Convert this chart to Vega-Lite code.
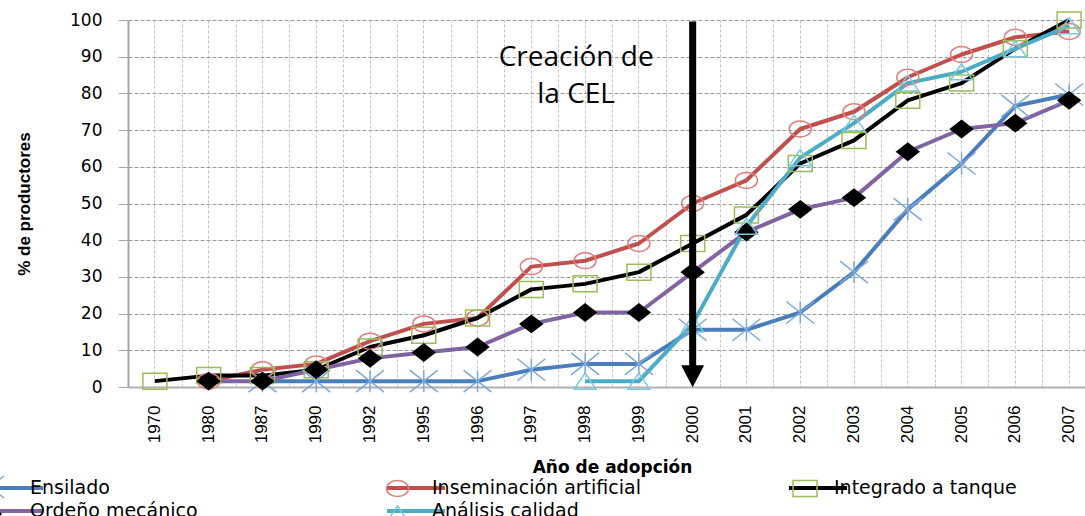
{
  "$schema": "https://vega.github.io/schema/vega-lite/v6.json",
  "width": 957,
  "height": 367,
  "autosize": {"type": "none"},
  "padding": {"left": 128, "top": 20, "right": 0, "bottom": 129},
  "background": "white",
  "config": {
    "view": {"stroke": null},
    "font": "DejaVu Sans"
  },
  "datasets": {
    "series": [
      {"year": "1987", "serie": "Ensilado", "pct": 1.6},
      {"year": "1990", "serie": "Ensilado", "pct": 1.6},
      {"year": "1992", "serie": "Ensilado", "pct": 1.6},
      {"year": "1995", "serie": "Ensilado", "pct": 1.6},
      {"year": "1996", "serie": "Ensilado", "pct": 1.6},
      {"year": "1997", "serie": "Ensilado", "pct": 4.7},
      {"year": "1998", "serie": "Ensilado", "pct": 6.3},
      {"year": "1999", "serie": "Ensilado", "pct": 6.3},
      {"year": "2000", "serie": "Ensilado", "pct": 15.6},
      {"year": "2001", "serie": "Ensilado", "pct": 15.6},
      {"year": "2002", "serie": "Ensilado", "pct": 20.3},
      {"year": "2003", "serie": "Ensilado", "pct": 31.3},
      {"year": "2004", "serie": "Ensilado", "pct": 48.4},
      {"year": "2005", "serie": "Ensilado", "pct": 60.9},
      {"year": "2006", "serie": "Ensilado", "pct": 76.6},
      {"year": "2007", "serie": "Ensilado", "pct": 79.7},
      {"year": "1980", "serie": "Inseminación artificial", "pct": 1.6},
      {"year": "1987", "serie": "Inseminación artificial", "pct": 4.7},
      {"year": "1990", "serie": "Inseminación artificial", "pct": 6.3},
      {"year": "1992", "serie": "Inseminación artificial", "pct": 12.5},
      {"year": "1995", "serie": "Inseminación artificial", "pct": 17.2},
      {"year": "1996", "serie": "Inseminación artificial", "pct": 18.8},
      {"year": "1997", "serie": "Inseminación artificial", "pct": 32.8},
      {"year": "1998", "serie": "Inseminación artificial", "pct": 34.4},
      {"year": "1999", "serie": "Inseminación artificial", "pct": 39.1},
      {"year": "2000", "serie": "Inseminación artificial", "pct": 50.0},
      {"year": "2001", "serie": "Inseminación artificial", "pct": 56.3},
      {"year": "2002", "serie": "Inseminación artificial", "pct": 70.3},
      {"year": "2003", "serie": "Inseminación artificial", "pct": 75.0},
      {"year": "2004", "serie": "Inseminación artificial", "pct": 84.4},
      {"year": "2005", "serie": "Inseminación artificial", "pct": 90.6},
      {"year": "2006", "serie": "Inseminación artificial", "pct": 95.3},
      {"year": "2007", "serie": "Inseminación artificial", "pct": 96.9},
      {"year": "1970", "serie": "Integrado a tanque", "pct": 1.6},
      {"year": "1980", "serie": "Integrado a tanque", "pct": 3.1},
      {"year": "1987", "serie": "Integrado a tanque", "pct": 3.1},
      {"year": "1990", "serie": "Integrado a tanque", "pct": 4.7},
      {"year": "1992", "serie": "Integrado a tanque", "pct": 10.9},
      {"year": "1995", "serie": "Integrado a tanque", "pct": 14.1},
      {"year": "1996", "serie": "Integrado a tanque", "pct": 18.8},
      {"year": "1997", "serie": "Integrado a tanque", "pct": 26.6},
      {"year": "1998", "serie": "Integrado a tanque", "pct": 28.1},
      {"year": "1999", "serie": "Integrado a tanque", "pct": 31.3},
      {"year": "2000", "serie": "Integrado a tanque", "pct": 39.1},
      {"year": "2001", "serie": "Integrado a tanque", "pct": 46.9},
      {"year": "2002", "serie": "Integrado a tanque", "pct": 60.9},
      {"year": "2003", "serie": "Integrado a tanque", "pct": 67.2},
      {"year": "2004", "serie": "Integrado a tanque", "pct": 78.1},
      {"year": "2005", "serie": "Integrado a tanque", "pct": 82.8},
      {"year": "2006", "serie": "Integrado a tanque", "pct": 92.2},
      {"year": "2007", "serie": "Integrado a tanque", "pct": 100},
      {"year": "1980", "serie": "Ordeño mecánico", "pct": 1.6},
      {"year": "1987", "serie": "Ordeño mecánico", "pct": 1.6},
      {"year": "1990", "serie": "Ordeño mecánico", "pct": 4.7},
      {"year": "1992", "serie": "Ordeño mecánico", "pct": 7.8},
      {"year": "1995", "serie": "Ordeño mecánico", "pct": 9.4},
      {"year": "1996", "serie": "Ordeño mecánico", "pct": 10.9},
      {"year": "1997", "serie": "Ordeño mecánico", "pct": 17.2},
      {"year": "1998", "serie": "Ordeño mecánico", "pct": 20.3},
      {"year": "1999", "serie": "Ordeño mecánico", "pct": 20.3},
      {"year": "2000", "serie": "Ordeño mecánico", "pct": 31.3},
      {"year": "2001", "serie": "Ordeño mecánico", "pct": 42.2},
      {"year": "2002", "serie": "Ordeño mecánico", "pct": 48.4},
      {"year": "2003", "serie": "Ordeño mecánico", "pct": 51.6},
      {"year": "2004", "serie": "Ordeño mecánico", "pct": 64.1},
      {"year": "2005", "serie": "Ordeño mecánico", "pct": 70.3},
      {"year": "2006", "serie": "Ordeño mecánico", "pct": 71.9},
      {"year": "2007", "serie": "Ordeño mecánico", "pct": 78.1},
      {"year": "1998", "serie": "Análisis calidad", "pct": 1.6},
      {"year": "1999", "serie": "Análisis calidad", "pct": 1.6},
      {"year": "2000", "serie": "Análisis calidad", "pct": 17.2},
      {"year": "2001", "serie": "Análisis calidad", "pct": 43.8},
      {"year": "2002", "serie": "Análisis calidad", "pct": 62.5},
      {"year": "2003", "serie": "Análisis calidad", "pct": 71.9},
      {"year": "2004", "serie": "Análisis calidad", "pct": 82.8},
      {"year": "2005", "serie": "Análisis calidad", "pct": 85.9},
      {"year": "2006", "serie": "Análisis calidad", "pct": 92.2},
      {"year": "2007", "serie": "Análisis calidad", "pct": 98.4}
    ],
    "arrow": [{"year": "2000", "pct": 99.6, "pct2": 5.5}],
    "arrowhead": [{"year": "2000", "pct": 2.9}],
    "note": [{"year": "1998", "pct": 89.6, "label": "Creación de\nla CEL"}]
  },
  "resolve": {"axis": {"x": "independent", "y": "independent"}, "scale": {"color": "independent", "shape": "independent"}},
  "layer": [
    {
      "data": {"name": "series"},
      "mark": {"type": "line", "strokeWidth": 4, "strokeJoin": "round"},
      "encoding": {
        "x": {
          "field": "year", "type": "ordinal",
          "scale": {"type": "band", "domain": ["1970","1980","1987","1990","1992","1995","1996","1997","1998","1999","2000","2001","2002","2003","2004","2005","2006","2007"], "range": [0, 968], "paddingInner": 0, "paddingOuter": 0},
          "axis": {"orient": "bottom", "labelAngle": 270, "labelFont": "Liberation Sans", "labelFontSize": 17, "labelColor": "#000", "ticks": false, "labelPadding": 18, "domainColor": "#b0b0b0", "domainWidth": 2, "grid": true, "gridColor": "#c4c4c4", "gridDash": [3, 2], "gridWidth": 1, "title": "Año de adopción", "titleFont": "DejaVu Sans", "titleFontWeight": "bold", "titleFontSize": 17, "titleColor": "#000", "titlePadding": 17}
        },
        "y": {
          "field": "pct", "type": "quantitative",
          "scale": {"domain": [0, 100], "nice": false, "zero": true},
          "title": "% de productores",
          "axis": {"values": [0, 10, 20, 30, 40, 50, 60, 70, 80, 90, 100], "tickCount": 11, "grid": true, "gridColor": "#9a9a9a", "gridDash": [4, 2], "gridWidth": 1, "domainColor": "#a6a6a6", "domainWidth": 2, "tickColor": "#a6a6a6", "tickSize": 10, "tickWidth": 1, "labelFont": "DejaVu Sans", "labelFontSize": 17, "labelColor": "#000", "labelPadding": 16, "labelOverlap": false, "titleFont": "Liberation Sans", "titleFontWeight": "bold", "titleFontSize": 17, "titleColor": "#000", "titlePadding": 36}
        },
        "color": {
          "field": "serie", "type": "nominal",
          "scale": {"domain": ["Ensilado", "Inseminación artificial", "Integrado a tanque", "Ordeño mecánico", "Análisis calidad"], "range": ["#4A7EBB", "#C0504D", "#000000", "#8064A2", "#4BACC6"]},
          "legend": {"orient": "none", "legendX": -107, "legendY": 456, "direction": "horizontal", "columns": 3, "gridAlign": "all", "columnPadding": 140, "rowPadding": 1, "title": null, "labelFont": "DejaVu Sans", "labelFontSize": 19, "labelColor": "#000", "labelLimit": 500, "labelOffset": 4, "symbolType": "M-2.9,0H2.9", "symbolSize": 400, "symbolStrokeWidth": 4, "symbolOffset": -19}
        }
      }
    },
    {
      "data": {"name": "series"},
      "mark": {"type": "point", "size": 400, "strokeWidth": 1.5, "opacity": 1, "filled": false},
      "encoding": {
        "x": {
          "field": "year", "type": "ordinal",
          "scale": {"type": "band", "domain": ["1970","1980","1987","1990","1992","1995","1996","1997","1998","1999","2000","2001","2002","2003","2004","2005","2006","2007"], "range": [0, 968], "paddingInner": 0, "paddingOuter": 0},
          "axis": {"orient": "top", "labels": false, "ticks": false, "domain": false, "title": null, "grid": true, "tickBand": "extent", "gridColor": "#c4c4c4", "gridDash": [3, 2], "gridWidth": 1}
        },
        "y": {
          "field": "pct", "type": "quantitative",
          "scale": {"domain": [0, 100], "nice": false, "zero": true},
          "axis": null
        },
        "shape": {
          "field": "serie", "type": "nominal",
          "scale": {"domain": ["Ensilado", "Inseminación artificial", "Integrado a tanque", "Ordeño mecánico", "Análisis calidad"], "range": ["M-1.4,-1.1L1.4,1.1M-1.4,1.1L1.4,-1.1M0,-1.1L0,1.1", "M-1.1,0A1.1,0.8 0 1,0 1.1,0A1.1,0.8 0 1,0 -1.1,0Z", "M-1.2,-0.8H1.2V0.8H-1.2Z", "M-1.1,0L0,-0.85L1.1,0L0,0.85ZM-0.935,0L0,-0.7225L0.935,0L0,0.7225ZM-0.77,0L0,-0.595L0.77,0L0,0.595ZM-0.605,0L0,-0.4675L0.605,0L0,0.4675ZM-0.44,0L0,-0.34L0.44,0L0,0.34ZM-0.275,0L0,-0.2125L0.275,0L0,0.2125ZM-0.11,0L0,-0.085L0.11,0L0,0.085Z", "M-1.1,0.8L0,-0.8L1.1,0.8Z"]},
          "legend": {"orient": "none", "legendX": -130, "legendY": 456, "direction": "horizontal", "columns": 3, "gridAlign": "all", "columnPadding": 165.5, "rowPadding": 1, "title": null, "labelFont": "DejaVu Sans", "labelFontSize": 19, "labelOpacity": 0, "labelLimit": 500, "labelOffset": 6.5, "symbolSize": 400, "symbolStrokeWidth": 1.5, "symbolOffset": -19, "symbolFillColor": "transparent"}
        },
        "color": {
          "field": "serie", "type": "nominal",
          "scale": {"domain": ["Ensilado", "Inseminación artificial", "Integrado a tanque", "Ordeño mecánico", "Análisis calidad"], "range": ["#7DA7D9", "#E07E7C", "#9BBB59", "#000000", "#78C8DD"]},
          "legend": {"orient": "none", "legendX": -130, "legendY": 456, "direction": "horizontal", "columns": 3, "gridAlign": "all", "columnPadding": 165.5, "rowPadding": 1, "title": null, "labelFont": "DejaVu Sans", "labelFontSize": 19, "labelOpacity": 0, "labelLimit": 500, "labelOffset": 6.5, "symbolSize": 400, "symbolStrokeWidth": 1.5, "symbolOffset": -19, "symbolFillColor": "transparent"}
        }
      }
    },
    {
      "data": {"name": "arrow"},
      "mark": {"type": "rule", "strokeWidth": 7, "color": "#000000"},
      "encoding": {
        "x": {"field": "year", "type": "ordinal", "axis": null},
        "y": {
          "field": "pct", "type": "quantitative",
          "scale": {"domain": [0, 100], "nice": false, "zero": true},
          "axis": null
        },
        "y2": {"field": "pct2"}
      }
    },
    {
      "data": {"name": "arrowhead"},
      "mark": {"type": "point", "shape": "M-1.15,-1.1L1.15,-1.1L0,1.1Z", "size": 400, "filled": true, "color": "#000000", "opacity": 1},
      "encoding": {
        "x": {"field": "year", "type": "ordinal", "axis": null},
        "y": {
          "field": "pct", "type": "quantitative",
          "scale": {"domain": [0, 100], "nice": false, "zero": true},
          "axis": null
        }
      }
    },
    {
      "data": {"name": "note"},
      "mark": {"type": "text", "font": "Open Sans", "fontSize": 28, "lineBreak": "\n", "lineHeight": 37, "align": "center", "baseline": "middle", "dx": -9, "color": "#000000"},
      "encoding": {
        "x": {"field": "year", "type": "ordinal", "axis": null},
        "y": {
          "field": "pct", "type": "quantitative",
          "scale": {"domain": [0, 100], "nice": false, "zero": true},
          "axis": null
        },
        "text": {"field": "label"}
      }
    }
  ]
}
